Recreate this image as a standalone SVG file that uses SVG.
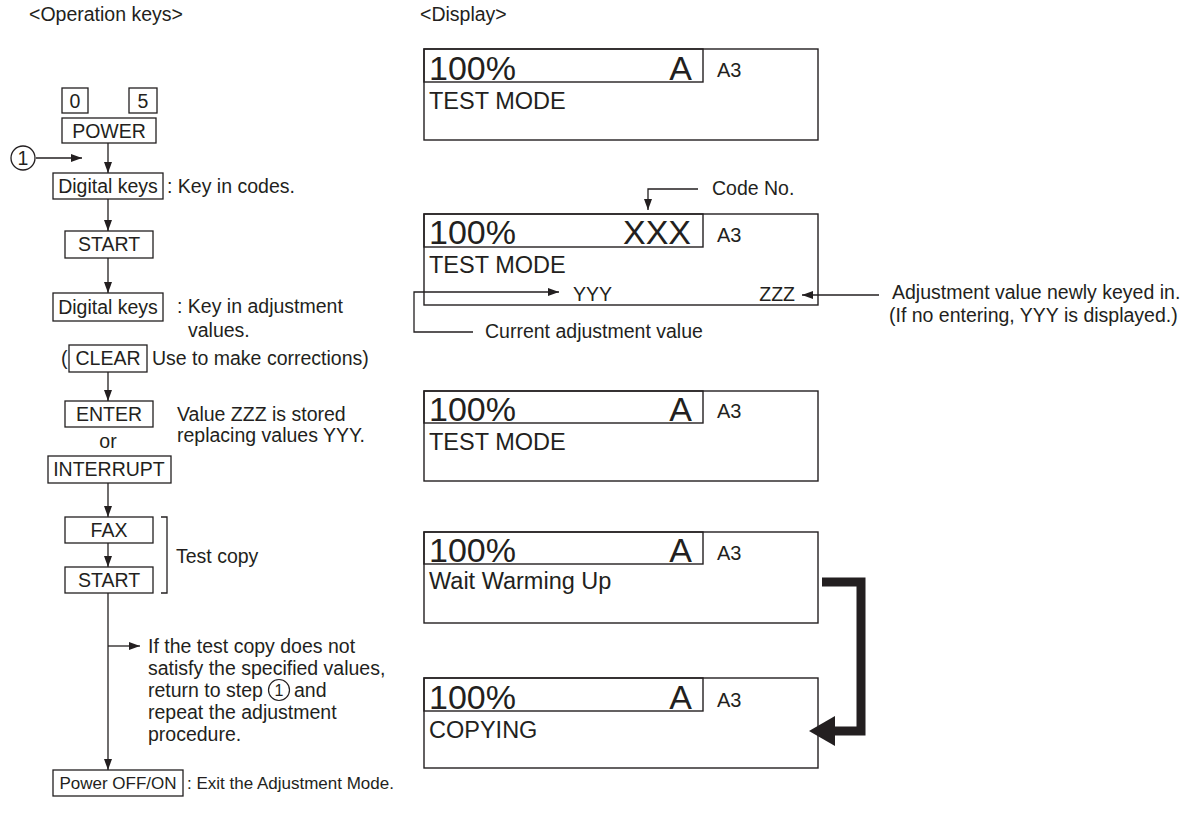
<svg xmlns="http://www.w3.org/2000/svg" width="1200" height="820" viewBox="0 0 1200 820">
<style>
text{font-family:"Liberation Sans",Arial,sans-serif;fill:#231f20;font-size:19.5px}
.c{text-anchor:middle}
.key{fill:#fff;stroke:#231f20;stroke-width:1.3}
.disp{fill:none;stroke:#231f20;stroke-width:1.4}
.big{font-size:34px}
.mid{font-size:23.5px}
.a3{font-size:20px}
.sm{font-size:17px}
.ln{fill:none;stroke:#231f20;stroke-width:1.3}
</style>
<defs>
<marker id="ah" markerUnits="userSpaceOnUse" markerWidth="11" markerHeight="8" refX="11" refY="4" orient="auto">
<path d="M0,0 L11,4 L0,8 z" fill="#231f20"/>
</marker>
</defs>
<rect width="1200" height="820" fill="#fff"/>
<text x="29" y="21">&lt;Operation keys&gt;</text>
<text x="420" y="21">&lt;Display&gt;</text>

<g id="step1">
<circle cx="23" cy="158" r="12" fill="none" stroke="#231f20" stroke-width="1.3"/>
<text x="23" y="165" class="c">1</text>
</g>
<g id="key-0"><rect class="key" x="62" y="88" width="26" height="25"/><text x="75" y="108" class="c">0</text></g>
<g id="key-5"><rect class="key" x="129" y="88" width="28" height="25"/><text x="143" y="108" class="c">5</text></g>
<g id="key-power"><rect class="key" x="62" y="118" width="94" height="25"/><text x="109" y="138" class="c">POWER</text></g>
<g id="key-digital1"><rect class="key" x="53" y="173" width="110" height="26"/><text x="108" y="193" class="c">Digital keys</text><text x="167" y="193">: Key in codes.</text></g>
<g id="key-start1"><rect class="key" x="65" y="231" width="88" height="27"/><text x="109" y="251" class="c">START</text></g>
<g id="key-digital2"><rect class="key" x="53" y="293" width="110" height="28"/><text x="108" y="314" class="c">Digital keys</text><text x="177" y="313">: Key in adjustment</text><text x="188" y="337">values.</text></g>
<g id="key-clear"><text x="61" y="365">(</text><rect class="key" x="69" y="345" width="78" height="27"/><text x="108" y="365" class="c">CLEAR</text><text x="152" y="365">Use to make corrections)</text></g>
<g id="key-enter"><rect class="key" x="65" y="401" width="88" height="26"/><text x="109" y="421" class="c">ENTER</text><text x="177" y="421">Value ZZZ is stored</text><text x="177" y="442">replacing values YYY.</text></g>
<g id="or"><text x="108" y="448" class="c">or</text></g>
<g id="key-interrupt"><rect class="key" x="48" y="456" width="123" height="27"/><text x="109" y="476" class="c">INTERRUPT</text></g>
<g id="key-fax"><rect class="key" x="65" y="517" width="88" height="26"/><text x="109" y="537" class="c">FAX</text></g>
<g id="key-start2"><rect class="key" x="65" y="567" width="88" height="26"/><text x="109" y="587" class="c">START</text></g>
<g id="test-copy"><text x="176" y="563">Test copy</text></g>
<g id="retry-note">
<text x="148" y="653">If the test copy does not</text>
<text x="148" y="675">satisfy the specified values,</text>
<text x="148" y="697">return to step</text>
<circle cx="279" cy="690" r="10.5" fill="none" stroke="#231f20" stroke-width="1.2"/>
<text x="279" y="696" class="c" style="font-size:16px">1</text>
<text x="294" y="697">and</text>
<text x="148" y="719">repeat the adjustment</text>
<text x="148" y="741">procedure.</text>
</g>
<g id="key-poweroff"><rect class="key" x="53" y="770" width="130" height="26"/><text x="118" y="789" class="c sm">Power OFF/ON</text><text x="187" y="789" class="sm">: Exit the Adjustment Mode.</text></g>

<g id="display1">
<rect class="disp" x="424" y="49" width="394" height="91"/>
<rect class="disp" x="424" y="49" width="279" height="33"/>
<text x="429" y="80" class="big">100%</text>
<text x="692" y="80" class="big" text-anchor="end">A</text>
<text x="717" y="77" class="a3">A3</text>
<text x="429" y="109" class="mid">TEST MODE</text>
</g>
<g id="display2">
<rect class="disp" x="424" y="214" width="394" height="91"/>
<rect class="disp" x="424" y="214" width="279" height="33"/>
<text x="429" y="244" class="big">100%</text>
<text x="691" y="244" class="big" text-anchor="end">XXX</text>
<text x="717" y="242" class="a3">A3</text>
<text x="429" y="273" class="mid">TEST MODE</text>
<text x="573" y="301">YYY</text>
<text x="795" y="301" text-anchor="end">ZZZ</text>
<text x="712" y="195">Code No.</text>
<text x="485" y="338">Current adjustment value</text>
<text x="892" y="299">Adjustment value newly keyed in.</text>
<text x="889" y="322">(If no entering, YYY is displayed.)</text>
</g>
<g id="display3">
<rect class="disp" x="424" y="391" width="394" height="90"/>
<rect class="disp" x="424" y="391" width="279" height="32"/>
<text x="429" y="421" class="big">100%</text>
<text x="692" y="421" class="big" text-anchor="end">A</text>
<text x="717" y="418" class="a3">A3</text>
<text x="429" y="450" class="mid">TEST MODE</text>
</g>
<g id="display4">
<rect class="disp" x="424" y="532" width="394" height="91"/>
<rect class="disp" x="424" y="532" width="279" height="32"/>
<text x="429" y="562" class="big">100%</text>
<text x="692" y="562" class="big" text-anchor="end">A</text>
<text x="717" y="560" class="a3">A3</text>
<text x="429" y="589" class="mid">Wait Warming Up</text>
</g>
<g id="display5">
<rect class="disp" x="424" y="678" width="394" height="90"/>
<rect class="disp" x="424" y="678" width="279" height="33"/>
<text x="429" y="709" class="big">100%</text>
<text x="692" y="709" class="big" text-anchor="end">A</text>
<text x="717" y="707" class="a3">A3</text>
<text x="429" y="738" class="mid">COPYING</text>
</g>

<g id="connectors">
<line class="ln" x1="36" y1="158" x2="82" y2="158" marker-end="url(#ah)"/>
<line class="ln" x1="108" y1="143" x2="108" y2="173" marker-end="url(#ah)"/>
<line class="ln" x1="108" y1="199" x2="108" y2="231" marker-end="url(#ah)"/>
<line class="ln" x1="108" y1="258" x2="108" y2="293" marker-end="url(#ah)"/>
<line class="ln" x1="108" y1="372" x2="108" y2="401" marker-end="url(#ah)"/>
<line class="ln" x1="108" y1="483" x2="108" y2="517" marker-end="url(#ah)"/>
<line class="ln" x1="108" y1="543" x2="108" y2="567" marker-end="url(#ah)"/>
<line class="ln" x1="108" y1="593" x2="108" y2="770" marker-end="url(#ah)"/>
<line class="ln" x1="108" y1="646" x2="140" y2="646" marker-end="url(#ah)"/>
<polyline class="ln" points="161,517 167,517 167,593 161,593"/>
<polyline class="ln" points="698,189 648,189 648,210" marker-end="url(#ah)"/>
<polyline class="ln" points="473,332 414,332 414,292 559,292" marker-end="url(#ah)"/>
<line class="ln" x1="879" y1="295" x2="802" y2="295" marker-end="url(#ah)"/>
<polyline points="822,582 861,582 861,731 833,731" fill="none" stroke="#231f20" stroke-width="9" stroke-linejoin="miter"/>
<polygon points="809,731 835,716 835,746" fill="#231f20"/>
</g>
</svg>
